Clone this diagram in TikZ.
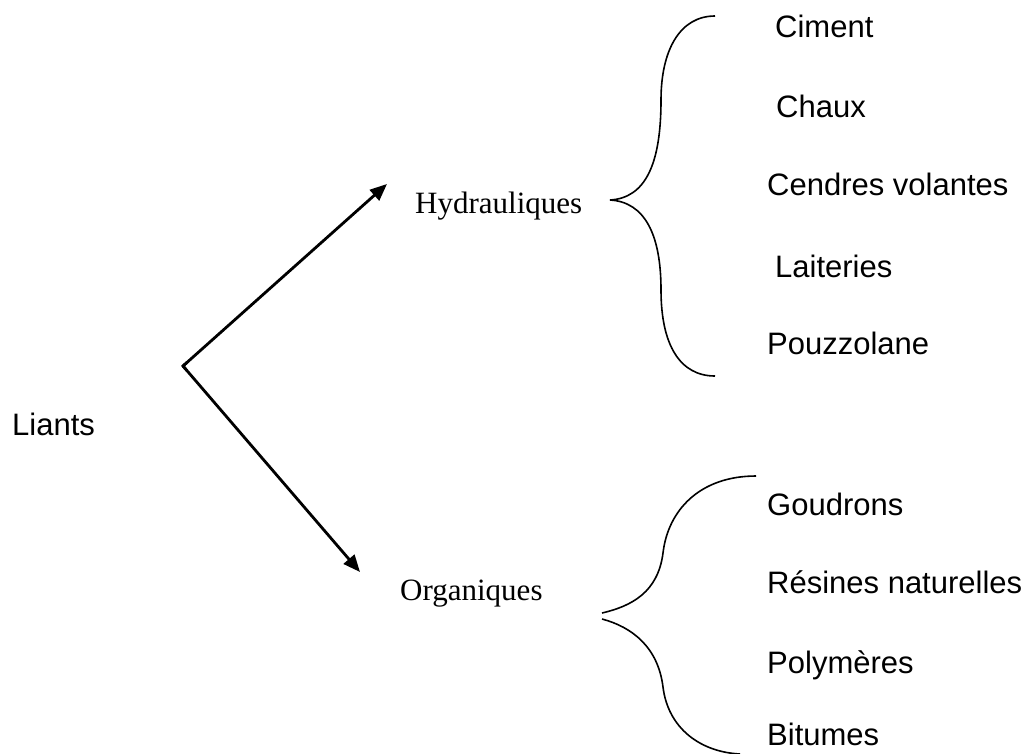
\documentclass[tikz,border=0pt]{standalone}
\usepackage{fontspec}
\setmainfont{Liberation Serif}
\newfontfamily\arialf{Liberation Sans}
\usetikzlibrary{arrows.meta,calc}
\begin{document}
\begin{tikzpicture}[x=1pt,y=-1pt,
  sanslbl/.style={anchor=base west,inner sep=0pt,font=\arialf\fontsize{31}{37}\selectfont},
  seriflbl/.style={anchor=base west,inner sep=0pt,font=\fontsize{31}{37}\selectfont},
  arr/.style={line width=2.8pt,-{Triangle[length=17pt,width=14pt]}},
  brace/.style={line width=1.6pt}]
\useasboundingbox (0,0) rectangle (1032,753);
\clip (0,0) rectangle (1032,753);
% labels
\node[sanslbl] (liants) at (12,435) {Liants};
\node[seriflbl] (hyd) at (415,213) {Hydrauliques};
\node[seriflbl] (org) at (400,600) {Organiques};
\node[sanslbl] (ciment) at (775,37) {Ciment};
\node[sanslbl] (chaux) at (776,117) {Chaux};
\node[sanslbl] (cendres) at (767,195) {Cendres volantes};
\node[sanslbl] (lait) at (775,277) {Laiteries};
\node[sanslbl] (pouz) at (767,354) {Pouzzolane};
\node[sanslbl] (goud) at (767,515) {Goudrons};
\node[sanslbl] (resin) at (767,593) {Résines naturelles};
\node[sanslbl] (poly) at (767,673) {Polymères};
\node[sanslbl] (bitu) at (767,745) {Bitumes};
% arrows
\coordinate (v) at (183,366);
\coordinate (tipH) at (387,184);
\coordinate (tipO) at (360,572);
\draw[arr] (v) -- (tipH);
\draw[arr] (v) -- (tipO);
\draw[line width=2.8pt,line join=miter] ($(v)!6pt!(tipH)$) -- (v) -- ($(v)!6pt!(tipO)$);
% upper brace
\coordinate (ub1) at (715,16);
\coordinate (ubc) at (610,200);
\coordinate (ub2) at (715,376);
\draw[brace] (ub1) .. controls (680,16) and (661,50) .. (661,100)
  .. controls (661,165) and (645,198) .. (ubc)
  .. controls (645,202) and (661,235) .. (661,290)
  .. controls (661,345) and (680,376) .. (ub2);
% lower brace
\coordinate (lb1) at (756,476);
\coordinate (lbc1) at (602,613);
\coordinate (lbc2) at (602,619);
\coordinate (lb2) at (740,754);
\draw[brace] (lb1) .. controls (700,476) and (668,510) .. (663,553)
  .. controls (658,592) and (632,606) .. (lbc1);
\draw[brace] (lbc2) .. controls (632,627) and (658,647) .. (663,687)
  .. controls (668,728) and (700,752) .. (lb2);
\end{tikzpicture}
\end{document}
